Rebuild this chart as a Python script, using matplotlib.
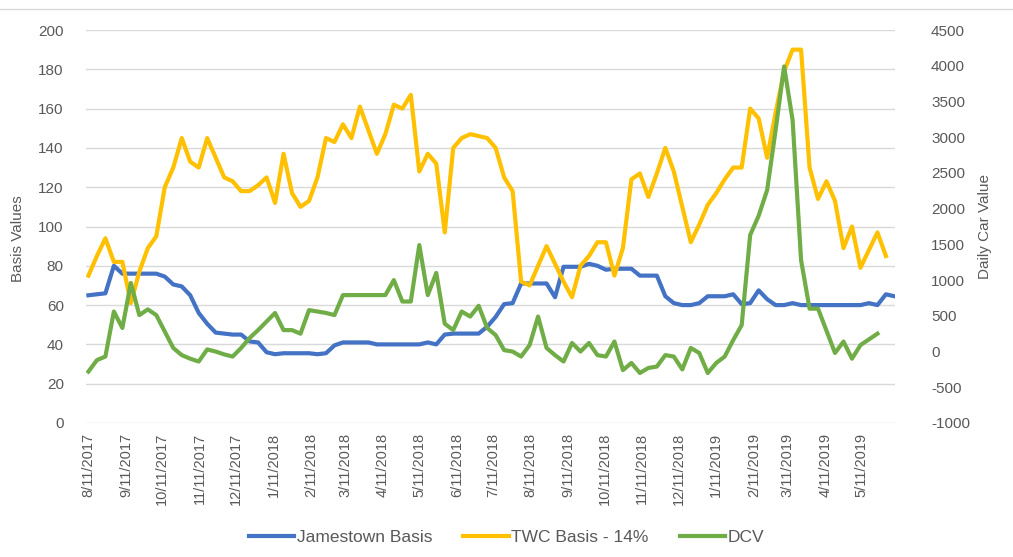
import matplotlib
matplotlib.use("Agg")
import matplotlib.pyplot as plt
import matplotlib.dates as mdates
from matplotlib.lines import Line2D
import pandas as pd

# weekly observations (Fridays) starting 8/11/2017
start_date = "2017-08-11"
n_weeks = 96

jamestown = [
    65, 65.5, 66, 80, 76, 76, 76, 76, 76, 74.5,
    70.5, 69.5, 65, 56, 50.5, 46, 45.5, 45, 45, 41.5,
    41, 36, 35, 35.5, 35.5, 35.5, 35.5, 35, 35.5, 39.5,
    41, 41, 41, 41, 40, 40, 40, 40, 40, 40,
    41, 40, 45, 45.5, 45.5, 45.5, 45.5, 49, 54, 60.5,
    61, 71, 71, 71, 71, 64, 79.5, 79.5, 79.5, 81,
    80, 78, 78.5, 78.5, 78.5, 75, 75, 75, 64.5, 61,
    60, 60, 61, 64.5, 64.5, 64.5, 65.5, 60.5, 61, 67.5,
    63, 60, 60, 61, 60, 60, 60, 60, 60, 60,
    60, 60, 61, 60, 65.5, 64.5,
]

twc = [
    75, 85, 94, 82, 82, 61, 77, 89, 95, 120,
    130, 145, 133, 130, 145, 135, 125, 123, 118, 118,
    121, 125, 112, 137, 117, 110, 113, 125, 145, 143,
    152, 145, 161, 149, 137, 147, 162, 160, 167, 128,
    137, 132, 97, 140, 145, 147, 146, 145, 140, 125,
    118, 72, 70, 80, 90, 81, 72, 64, 80, 85,
    92, 92, 75, 89, 124, 127, 115, 127, 140, 128,
    110, 92, 101, 111, 117, 124, 130, 130, 160, 155,
    135, 158, 179, 190, 190, 130, 114, 123, 113, 89,
    100, 79, 88, 97, 85,
]

dcv = [
    -280, -120, -70, 560, 330, 960, 510, 590, 510, 280,
    50, -50, -100, -140, 30, 0, -40, -70, 50, 190,
    300, 420, 540, 300, 300, 250, 580, 560, 540, 510,
    790, 790, 790, 790, 790, 790, 1000, 700, 700, 1490,
    790, 1100, 390, 300, 560, 490, 640, 330, 230, 20,
    0, -70, 90, 490, 50, -50, -140, 120, 0, 120,
    -50, -70, 140, -260, -160, -300, -230, -210, -50, -70,
    -250, 50, -20, -300, -160, -70, 160, 370, 1630, 1900,
    2260, 3100, 3990, 3240, 1280, 600, 600, 290, -20, 140,
    -100, 90, 170, 250,
]

dates = pd.date_range(start_date, periods=n_weeks, freq="7D")

plt.rcParams["font.family"] = ["Liberation Sans", "DejaVu Sans"]
plt.rcParams["axes.unicode_minus"] = False

grey = "#595959"
c_blue = "#4472C4"
c_gold = "#FFC000"
c_green = "#70AD47"

fig = plt.figure(figsize=(10.13, 5.57), dpi=100)
ax = fig.add_axes([86 / 1013, 1 - 423 / 557, (895 - 86) / 1013, (423 - 30) / 557])
ax2 = ax.twinx()

ax.plot(dates[:len(jamestown)], jamestown, color=c_blue, lw=3, label="Jamestown Basis",
        solid_joinstyle="round")
ax.plot(dates[:len(twc)], twc, color=c_gold, lw=3, label="TWC Basis - 14%",
        solid_joinstyle="round")
ax2.plot(dates[:len(dcv)], dcv, color=c_green, lw=3, label="DCV",
         solid_joinstyle="round")

ax.set_ylim(0, 200)
ax.set_yticks(range(0, 201, 20))
ax2.set_ylim(-1000, 4500)
ax2.set_yticks(range(-1000, 4501, 500))
ax.set_xlim(dates[0] - pd.Timedelta(days=2), dates[-1] + pd.Timedelta(days=0.5))

ax.xaxis.set_major_locator(mdates.MonthLocator(bymonthday=11))
ax.xaxis.set_major_formatter(mdates.DateFormatter("%-m/%d/%Y"))

ax.grid(axis="y", color="#d9d9d9", lw=1)
ax.set_axisbelow(True)
for a in (ax, ax2):
    for s in a.spines.values():
        s.set_visible(False)

ax.tick_params(axis="x", length=0, pad=7, labelsize=10.5, labelcolor=grey, labelrotation=90)
ax.tick_params(axis="y", length=0, pad=16, labelsize=11, labelcolor=grey)
ax2.tick_params(axis="y", length=0, pad=26, labelsize=11, labelcolor=grey)

ax.set_ylabel("Basis Values", fontsize=11, color=grey)
ax.yaxis.set_label_coords(-0.075, 0.47)
ax2.set_ylabel("Daily Car Value", fontsize=11, color=grey)
ax2.yaxis.set_label_coords(1.103, 0.5)

handles = ax.get_lines() + ax2.get_lines()
fig.legend(handles, [h.get_label() for h in handles], loc="center",
           bbox_to_anchor=(0.5, 1 - 537 / 557), ncol=3, frameon=False,
           fontsize=12.5, labelcolor=grey, handlelength=2.6, handletextpad=0.15,
           columnspacing=1.8)

# thin frame line at the top of the chart area
fig.add_artist(Line2D([0, 1], [1 - 9 / 557, 1 - 9 / 557], color="#d9d9d9", lw=1))

fig.savefig("out.png", dpi=100)
